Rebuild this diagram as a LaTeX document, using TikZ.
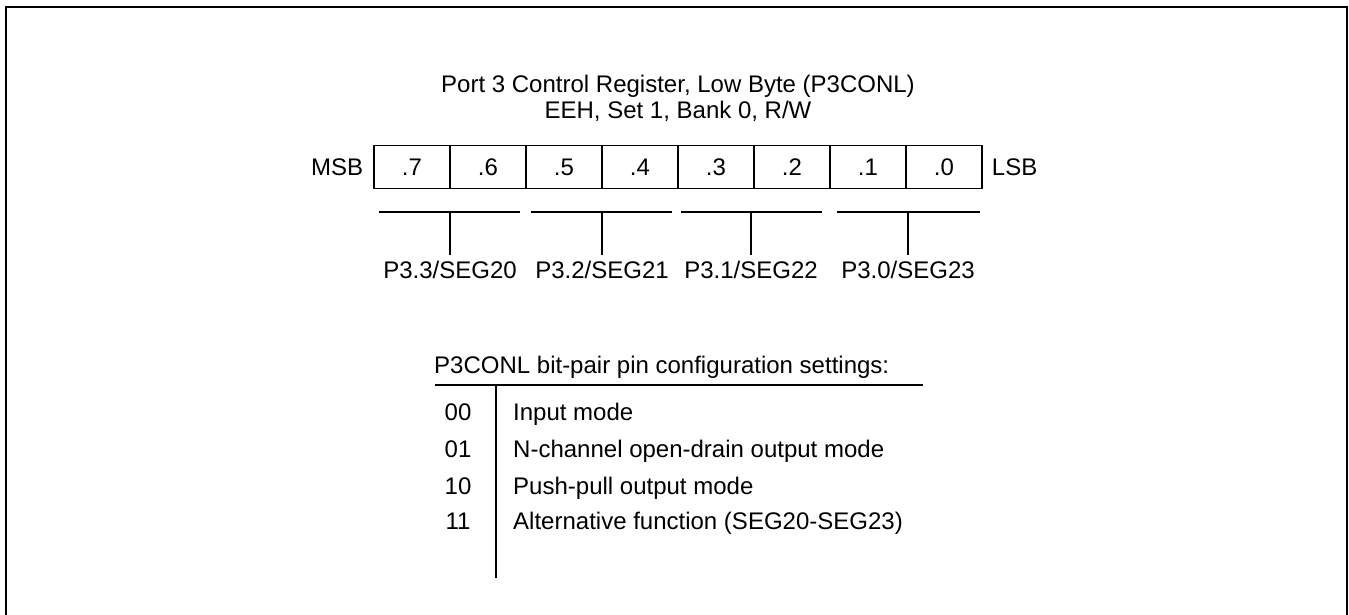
\documentclass[tikz,border=0pt]{standalone}
\usepackage{fontspec}
\setmainfont{Liberation Sans}
\usetikzlibrary{positioning}

\begin{document}
\begin{tikzpicture}[font=\fontsize{13.66}{16}\selectfont,
    cell/.style={draw, line width=0.8pt, minimum width=1.52cm, minimum height=0.86cm, inner sep=0pt},
    wire/.style={line width=0.8pt}]
    % 固定画面大小
    \useasboundingbox (0,0) rectangle (26.98,12.3);

    % 外框（下边在画面之外）
    \draw[line width=1.2pt] (0.12,-0.2) -- (0.12,12.16) -- (26.94,12.16) -- (26.94,-0.2);

    % === 标题 ===
    \node[anchor=base] (title) at (13.56,10.45) {Port 3 Control Register, Low Byte (P3CONL)};
    \node[anchor=base] (addr) at (13.56,9.93) {EEH, Set 1, Bank 0, R/W};

    % === 寄存器各位 ===
    \node[cell] (b7) at (8.24,8.96) {.7};
    \node[cell] (b6) at (9.76,8.96) {.6};
    \node[cell] (b5) at (11.28,8.96) {.5};
    \node[cell] (b4) at (12.80,8.96) {.4};
    \node[cell] (b3) at (14.32,8.96) {.3};
    \node[cell] (b2) at (15.84,8.96) {.2};
    \node[cell] (b1) at (17.36,8.96) {.1};
    \node[cell] (b0) at (18.88,8.96) {.0};
    \node[left=0.08cm of b7] (msb) {MSB};
    \node[right=0.06cm of b0] (lsb) {LSB};

    % === 每两位一组的总线 ===
    \coordinate (s1a) at (7.58,8.06);  \coordinate (s1b) at (10.40,8.06);
    \coordinate (s2a) at (10.62,8.06); \coordinate (s2b) at (13.44,8.06);
    \coordinate (s3a) at (13.62,8.06); \coordinate (s3b) at (16.44,8.06);
    \coordinate (s4a) at (16.74,8.06); \coordinate (s4b) at (19.60,8.06);
    \draw[wire] (s1a) -- (s1b);
    \draw[wire] (s2a) -- (s2b);
    \draw[wire] (s3a) -- (s3b);
    \draw[wire] (s4a) -- (s4b);

    % 引脚名称
    \node[anchor=base] (p33) at (9.00,6.73) {P3.3/SEG20};
    \node[anchor=base] (p32) at (12.04,6.73) {P3.2/SEG21};
    \node[anchor=base] (p31) at (15.02,6.73) {P3.1/SEG22};
    \node[anchor=base] (p30) at (18.16,6.73) {P3.0/SEG23};

    % 竖线：总线 -> 名称
    \coordinate (v1) at (9.00,8.06);
    \coordinate (v2) at (12.04,8.06);
    \coordinate (v3) at (15.02,8.06);
    \coordinate (v4) at (18.16,8.06);
    \draw[wire] (v1) -- (p33.north);
    \draw[wire] (v2) -- (p32.north);
    \draw[wire] (v3) -- (p31.north);
    \draw[wire] (v4) -- (p30.north);

    % === 设置表 ===
    \node[anchor=base west] (head) at (8.56,4.83) {P3CONL bit-pair pin configuration settings:};
    \coordinate (rl) at (8.70,4.60);
    \coordinate (rr) at (18.46,4.60);
    \draw[wire] (rl) -- (rr);
    \coordinate (ct) at (9.92,4.60);
    \coordinate (cb) at (9.92,0.74);
    \draw[wire] (ct) -- (cb);

    \node[anchor=base] (c00) at (9.16,3.89) {00};
    \node[anchor=base] (c01) at (9.16,3.15) {01};
    \node[anchor=base] (c10) at (9.16,2.41) {10};
    \node[anchor=base] (c11) at (9.16,1.71) {11};
    \node[anchor=base west] (m00) at (10.14,3.89) {Input mode};
    \node[anchor=base west] (m01) at (10.14,3.15) {N-channel open-drain output mode};
    \node[anchor=base west] (m10) at (10.14,2.41) {Push-pull output mode};
    \node[anchor=base west] (m11) at (10.14,1.71) {Alternative function (SEG20-SEG23)};
\end{tikzpicture}
\end{document}
